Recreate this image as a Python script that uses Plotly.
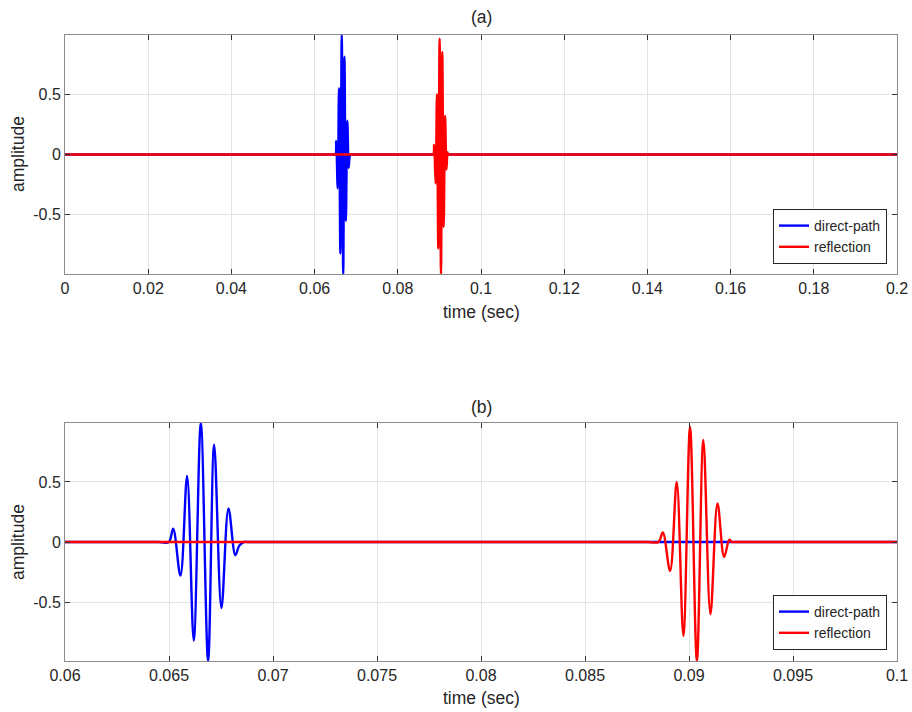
import plotly.graph_objects as go

# ---- data (extrema of the two pulses) ----
direct_t = [0.0, 0.0645, 0.06499, 0.06520, 0.06555, 0.06587, 0.06619, 0.06653,
            0.06688, 0.06717, 0.06752, 0.06786, 0.06819, 0.06838, 0.06860, 0.06880, 0.2]
direct_a = [0.0, 0.0, 0.0, 0.11, -0.28, 0.55, -0.82, 0.99,
            -0.99, 0.81, -0.55, 0.28, -0.11, -0.03, 0.0, 0.0, 0.0]

refl_t = [0.0, 0.0880, 0.08853, 0.08874, 0.08909, 0.08941, 0.08973, 0.09005,
          0.09038, 0.09069, 0.09103, 0.09137, 0.09169, 0.09194, 0.09206, 0.0922, 0.2]
refl_a = [0.0, 0.0, 0.0, 0.08, -0.24, 0.50, -0.78, 0.96,
          -0.99, 0.85, -0.60, 0.32, -0.125, 0.02, 0.0, 0.0, 0.0]

xticks_a = [0, 0.02, 0.04, 0.06, 0.08, 0.1, 0.12, 0.14, 0.16, 0.18, 0.2]
xlabels_a = ["0", "0.02", "0.04", "0.06", "0.08", "0.1", "0.12", "0.14", "0.16", "0.18", "0.2"]
xticks_b = [0.06, 0.065, 0.07, 0.075, 0.08, 0.085, 0.09, 0.095, 0.1]
xlabels_b = ["0.06", "0.065", "0.07", "0.075", "0.08", "0.085", "0.09", "0.095", "0.1"]
yticks = [-0.5, 0, 0.5]
ylabels = ["-0.5", "0", "0.5"]

W, H = 912, 712
FONT = "Liberation Sans, Arial, Helvetica, sans-serif"
TXT = "#262626"

fig = go.Figure()
for xa, ya, lg in [("x", "y", "legend"), ("x2", "y2", "legend2")]:
    fig.add_trace(go.Scatter(x=direct_t, y=direct_a, mode="lines", name="direct-path",
                             line=dict(color="#0000ff", width=2.4, shape="spline", smoothing=1),
                             xaxis=xa, yaxis=ya, legend=lg))
    fig.add_trace(go.Scatter(x=refl_t, y=refl_a, mode="lines", name="reflection",
                             line=dict(color="#ff0000", width=2.4, shape="spline", smoothing=1),
                             xaxis=xa, yaxis=ya, legend=lg))

def px_x(p):
    return p / W

def px_y(p):
    return 1 - p / H

xdom = [px_x(65), px_x(897)]
common_ax = dict(showline=True, linecolor="#8c8c8c", linewidth=1, mirror="ticks",
                 ticks="inside", ticklen=5, tickwidth=1, tickcolor="#333333",
                 showgrid=True, gridcolor="#e3e3e3", gridwidth=1, zeroline=False,
                 automargin=False,
                 tickfont=dict(family=FONT, size=16, color=TXT))

fig.update_layout(
    width=W, height=H,
    margin=dict(l=0, r=0, t=0, b=0, pad=0, autoexpand=False),
    paper_bgcolor="white", plot_bgcolor="white",
    showlegend=True,
    xaxis=dict(domain=xdom, anchor="y", range=[0, 0.2], tickvals=xticks_a,
               ticktext=xlabels_a, **common_ax),
    yaxis=dict(domain=[px_y(274), px_y(35)], anchor="x", range=[-0.99, 0.99],
               tickvals=yticks, ticktext=ylabels, **common_ax),
    xaxis2=dict(domain=xdom, anchor="y2", range=[0.06, 0.1], tickvals=xticks_b,
                ticktext=xlabels_b, **common_ax),
    yaxis2=dict(domain=[px_y(661), px_y(423)], anchor="x2", range=[-0.99, 0.99],
                tickvals=yticks, ticktext=ylabels, **common_ax),
    legend=dict(x=px_x(887), y=px_y(264), xanchor="right", yanchor="bottom",
                bgcolor="white", bordercolor="#262626", borderwidth=1,
                font=dict(family=FONT, size=14, color=TXT), tracegroupgap=0,
                itemwidth=30),
    legend2=dict(x=px_x(887), y=px_y(650), xanchor="right", yanchor="bottom",
                 bgcolor="white", bordercolor="#262626", borderwidth=1,
                 font=dict(family=FONT, size=14, color=TXT), tracegroupgap=0,
                 itemwidth=30),
)

ann = [
    dict(text="(a)", x=px_x(481), y=px_y(17), size=17.5),
    dict(text="(b)", x=px_x(481), y=px_y(407), size=17.5),
    dict(text="time (sec)", x=px_x(481), y=px_y(312), size=17.5),
    dict(text="time (sec)", x=px_x(481), y=px_y(698), size=17.5),
]
for a in ann:
    fig.add_annotation(text=a["text"], x=a["x"], y=a["y"], xref="paper", yref="paper",
                       xanchor="center", yanchor="middle", showarrow=False,
                       font=dict(family=FONT, size=a["size"], color=TXT))
for yc in [154, 542]:
    fig.add_annotation(text="amplitude", x=px_x(18), y=px_y(yc), xref="paper", yref="paper",
                       xanchor="center", yanchor="middle", showarrow=False, textangle=-90,
                       font=dict(family=FONT, size=17.5, color=TXT))

fig.write_html("out.html")
